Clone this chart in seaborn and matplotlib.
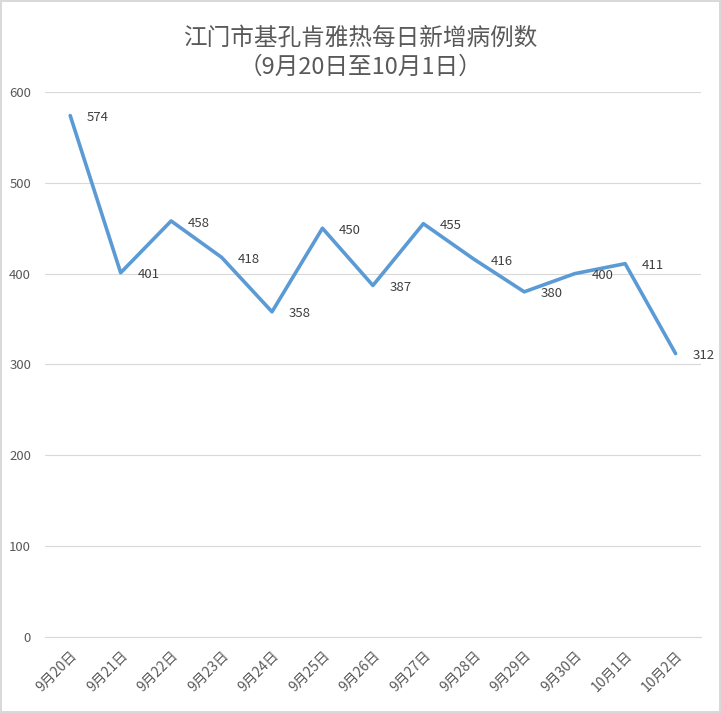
import matplotlib
matplotlib.use('Agg')
import matplotlib.pyplot as plt
import seaborn as sns
import pandas as pd

# data
dates = ['9月20日', '9月21日', '9月22日', '9月23日', '9月24日', '9月25日', '9月26日',
         '9月27日', '9月28日', '9月29日', '9月30日', '10月1日', '10月2日']
cases = [574, 401, 458, 418, 358, 450, 387, 455, 416, 380, 400, 411, 312]

df = pd.DataFrame({'date': dates, 'cases': cases})
df['pos'] = range(len(df))

sns.set_style('white')
plt.rcParams['font.family'] = ['Noto Sans CJK SC', 'DejaVu Sans']

fig = plt.figure(figsize=(7.21, 7.13), dpi=100)
fig.patch.set_edgecolor('#D9D9D9')
fig.patch.set_linewidth(1.5)
ax = fig.add_axes([0.0624, 0.1066, 0.9096, 0.7644])

sns.lineplot(data=df, x='pos', y='cases', ax=ax, color='#5B9BD5', linewidth=2.6)

# value labels to the right of each point
for x, y in zip(df['pos'], df['cases']):
    ax.annotate(str(y), (x, y), xytext=(12, -1.5), textcoords='offset points',
                ha='left', va='center', fontsize=9.5, color='#404040')

ax.set_xlim(-0.5, 12.5)
ax.set_ylim(0, 600)
ax.set_yticks(range(0, 601, 100))
ax.yaxis.grid(True, color='#D9D9D9', linewidth=0.8)
ax.set_axisbelow(True)

ax.set_xticks(df['pos'])
ax.set_xticklabels(dates, rotation=45, ha='right', rotation_mode='anchor')
ax.set_xticks([i - 0.5 for i in range(len(dates) + 1)], minor=True)
ax.tick_params(axis='x', which='major', length=0, pad=8, labelsize=10, labelcolor='#595959')
ax.tick_params(axis='x', which='minor', length=5, color='#D9D9D9', direction='out')
ax.tick_params(axis='y', length=0, pad=10, labelsize=9.5, labelcolor='#595959')

for side in ['top', 'right', 'left']:
    ax.spines[side].set_visible(False)
ax.spines['bottom'].set_color('#D9D9D9')

ax.set_xlabel('')
ax.set_ylabel('')
fig.suptitle('江门市基孔肯雅热每日新增病例数\n（9月20日至10月1日）', y=0.962,
             fontsize=17, color='#595959', linespacing=1.3, fontweight='light')

fig.savefig('out.png', dpi=100)
